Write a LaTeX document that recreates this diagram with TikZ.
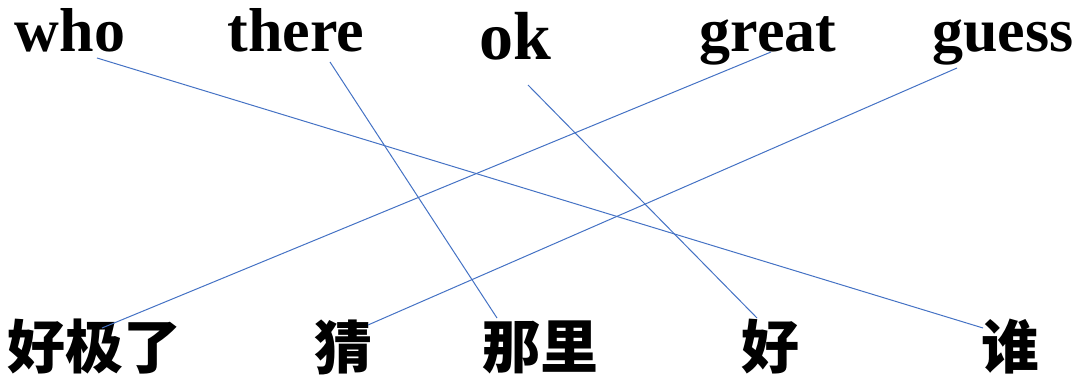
\documentclass[tikz,border=0pt]{standalone}
\usepackage{fontspec}
\setmainfont{Liberation Serif}
\newfontfamily\cjk{Noto Sans CJK SC}
\usepackage{xcolor}
\usetikzlibrary{positioning}

\definecolor{linkblue}{HTML}{4472C4}

\tikzset{
    enword/.style={inner sep=0pt, anchor=base, font=\fontsize{62}{62}\selectfont\bfseries},
    zhword/.style={inner sep=0pt, anchor=center, font=\fontsize{58}{58}\selectfont\cjk\bfseries},
    match/.style={draw=linkblue, line width=1pt},
}

\begin{document}
\begin{tikzpicture}[x=1pt, y=1pt]
    \useasboundingbox (0,0) rectangle (1082,383);

    % english words
    \node[enword] (who) at (70,331) {who};
    \node[enword] (there) at (296,331) {there};
    \node[enword, font=\fontsize{68}{68}\selectfont\bfseries] (ok) at (515,323) {ok};
    \node[enword] (great) at (768,331) {great};
    \node[enword] (guess) at (1003,331) {guess};

    % chinese words
    \node[zhword] (haojile) at (95,36) {好极了};
    \node[zhword] (cai) at (343,36) {猜};
    \node[zhword] (nali) at (540,36) {那里};
    \node[zhword] (hao) at (770,36) {好};
    \node[zhword] (shei) at (1010,36) {谁};

    % matches
    \draw[match] ([xshift=27pt,yshift=-6pt]who.base) -- ([xshift=-27pt,yshift=19pt]shei.center);
    \draw[match] ([xshift=34pt,yshift=-10pt]there.base) -- ([xshift=-43pt,yshift=29pt]nali.center);
    \draw[match] ([xshift=13pt,yshift=-25pt]ok.base) -- ([xshift=-13pt,yshift=29pt]hao.center);
    \draw[match] ([xshift=3pt]great.base) -- ([xshift=7pt,yshift=19pt]haojile.center);
    \draw[match] ([xshift=-46pt,yshift=-16pt]guess.base) -- ([xshift=25pt,yshift=22pt]cai.center);
\end{tikzpicture}
\end{document}
